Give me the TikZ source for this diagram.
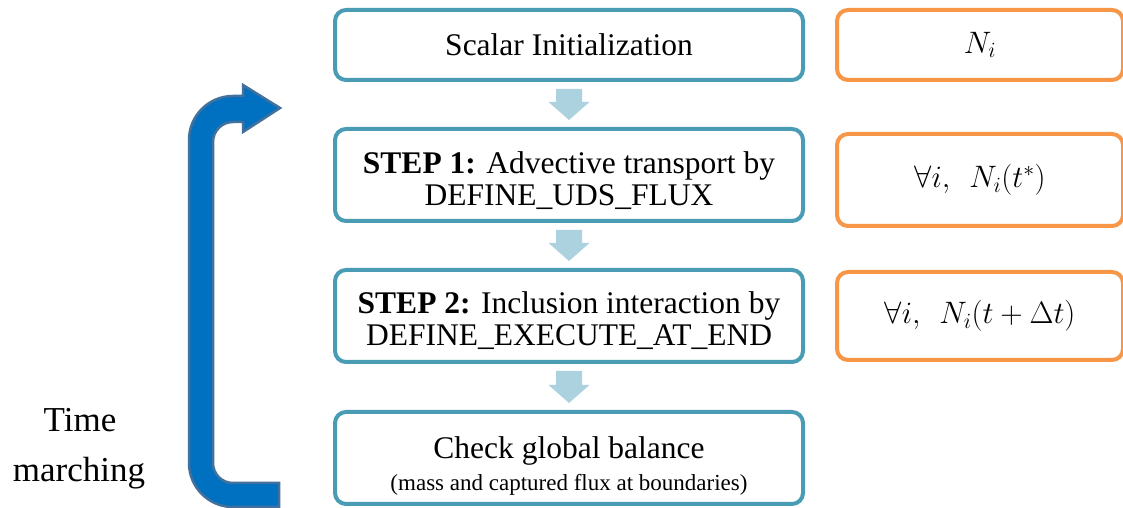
\RequirePackage{fix-cm}
\documentclass[tikz,border=0pt]{standalone}
\usepackage{fontspec}
\setmainfont{Liberation Serif}
\usetikzlibrary{calc}
\definecolor{tealb}{HTML}{4A9BB4}
\definecolor{orangeb}{HTML}{F79646}
\definecolor{chevc}{HTML}{ADD2DF}
\definecolor{loopfill}{HTML}{0070C0}
\definecolor{loopline}{HTML}{41719C}
\newcommand{\mychevron}[2]{%
  \fill[chevc] let \p1=(#1.south), \p2=(#2.north) in
    (\x1-13,\y1-7) -- (\x1+13,\y1-7) -- (\x1+13,\y2+25) -- (\x1+20.5,\y2+25)
    -- (\x1,\y2+7) -- (\x1-20.5,\y2+25) -- (\x1-13,\y2+25) -- cycle;}
\begin{document}
\begin{tikzpicture}[x=1pt,y=1pt,
  bluebox/.style={draw=tealb, line width=4pt, rounded corners=11pt, fill=white,
    minimum width=468pt, align=center, inner sep=0pt,
    font=\fontsize{31.5}{32}\selectfont},
  orbox/.style={draw=orangeb, line width=4pt, rounded corners=11pt, fill=white,
    minimum width=286pt, inner sep=0pt, font=\fontsize{31}{32}\selectfont},
  sidetext/.style={anchor=base, font=\fontsize{35}{40}\selectfont, inner sep=0pt},
]
\useasboundingbox (0,0) rectangle (1123,508);

% flow boxes
\node[bluebox, minimum height=70pt] (b1) at (569,463) {Scalar Initialization};
\node[bluebox, minimum height=92pt] (b2) at (569,333)
  {\rule{0pt}{34pt}\textbf{STEP 1:} Advective transport by\\DEFINE\_UDS\_FLUX};
\node[bluebox, minimum height=92pt] (b3) at (569,192)
  {\rule{0pt}{32pt}\textbf{STEP 2:} Inclusion interaction by\\DEFINE\_EXECUTE\_AT\_END};
\node[bluebox, minimum height=92pt] (b4) at (569,50)
  {\rule{0pt}{38pt}Check global balance\\[0pt]{\fontsize{23}{26}\selectfont (mass and captured flux at boundaries)}};

% side boxes
\node[orbox, minimum height=70pt] (o1) at (980,463) {$N_i$};
\node[orbox, minimum height=92pt] (o2) at (980,328) {$\forall i,\;\, N_i(t^*)$};
\node[orbox, minimum height=88pt] (o3) at (980,192) {$\forall i,\;\, N_i(t+\Delta t)$};

% chevron connectors
\mychevron{b1}{b2}
\mychevron{b2}{b3}
\mychevron{b3}{b4}

% time marching loop arrow
\filldraw[fill=loopfill, draw=loopline, line width=2.5pt, line join=miter]
  (279,1) -- (233,1) arc[start angle=270, end angle=180, radius=44]
  -- (189,368) arc[start angle=180, end angle=90, radius=44]
  -- (243,412) -- (243,423) -- (280,400) -- (243,376) -- (243,386)
  -- (233,386) arc[start angle=90, end angle=180, radius=20]
  -- (213,45) arc[start angle=180, end angle=270, radius=20]
  -- (279,25) -- cycle;

\node[sidetext] (t1) at (80,76) {Time};
\node[sidetext] (t2) at (79,26) {marching};
\end{tikzpicture}
\end{document}
